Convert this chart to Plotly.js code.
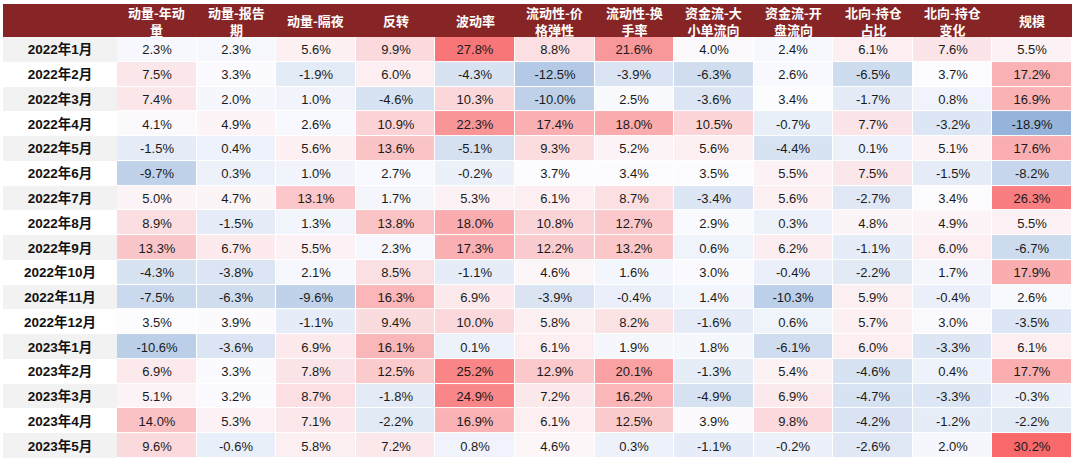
<!DOCTYPE html>
<html>
<head>
<meta charset="utf-8">
<script src="https://cdn.plot.ly/plotly-3.0.1.min.js"></script>
<style>html,body{margin:0;padding:0;background:#fff;}#chart{width:1080px;height:468px;}</style>
</head>
<body>
<div id="chart"></div>
<script>
// Row labels (months)
const months = ["2022年1月","2022年2月","2022年3月","2022年4月","2022年5月","2022年6月","2022年7月","2022年8月","2022年9月","2022年10月","2022年11月","2022年12月","2023年1月","2023年2月","2023年3月","2023年4月","2023年5月"];

// Column headers
const headers = ["动量-年动<br>量","动量-报告<br>期","动量-隔夜","反转","波动率","流动性-价<br>格弹性","流动性-换<br>手率","资金流-大<br>小单流向","资金流-开<br>盘流向","北向-持仓<br>占比","北向-持仓<br>变化","规模"];

// Series values (%), one array per factor column
const momYear     = [2.3, 7.5, 7.4, 4.1, -1.5, -9.7, 5.0, 8.9, 13.3, -4.3, -7.5, 3.5, -10.6, 6.9, 5.1, 14.0, 9.6];
const momReport   = [2.3, 3.3, 2.0, 4.9, 0.4, 0.3, 4.7, -1.5, 6.7, -3.8, -6.3, 3.9, -3.6, 3.3, 3.2, 5.3, -0.6];
const momNight    = [5.6, -1.9, 1.0, 2.6, 5.6, 1.0, 13.1, 1.3, 5.5, 2.1, -9.6, -1.1, 6.9, 7.8, 8.7, 7.1, 5.8];
const reversal    = [9.9, 6.0, -4.6, 10.9, 13.6, 2.7, 1.7, 13.8, 2.3, 8.5, 16.3, 9.4, 16.1, 12.5, -1.8, -2.2, 7.2];
const volatility  = [27.8, -4.3, 10.3, 22.3, -5.1, -0.2, 5.3, 18.0, 17.3, -1.1, 6.9, 10.0, 0.1, 25.2, 24.9, 16.9, 0.8];
const liqElastic  = [8.8, -12.5, -10.0, 17.4, 9.3, 3.7, 6.1, 10.8, 12.2, 4.6, -3.9, 5.8, 6.1, 12.9, 7.2, 6.1, 4.6];
const liqTurnover = [21.6, -3.9, 2.5, 18.0, 5.2, 3.4, 8.7, 12.7, 13.2, 1.6, -0.4, 8.2, 1.9, 20.1, 16.2, 12.5, 0.3];
const flowOrder   = [4.0, -6.3, -3.6, 10.5, 5.6, 3.5, -3.4, 2.9, 0.6, 3.0, 1.4, -1.6, 1.8, -1.3, -4.9, 3.9, -1.1];
const flowOpen    = [2.4, 2.6, 3.4, -0.7, -4.4, 5.5, 5.6, 0.3, 6.2, -0.4, -10.3, 0.6, -6.1, 5.4, 6.9, 9.8, -0.2];
const northShare  = [6.1, -6.5, -1.7, 7.7, 0.1, 7.5, -2.7, 4.8, -1.1, -2.2, 5.9, 5.7, 6.0, -4.6, -4.7, -4.2, -2.6];
const northChange = [7.6, 3.7, 0.8, -3.2, 5.1, -1.5, 3.4, 4.9, 6.0, 1.7, -0.4, 3.0, -3.3, 0.4, -3.3, -1.2, 2.0];
const size        = [5.5, 17.2, 16.9, -18.9, 17.6, -8.2, 26.3, 5.5, -6.7, 17.9, 2.6, -3.5, 6.1, 17.7, -0.3, -2.2, 30.2];

const columns = [momYear, momReport, momNight, reversal, volatility, liqElastic, liqTurnover, flowOrder, flowOpen, northShare, northChange, size];

// Build matrix (rows = months, cols = factors)
const colIdx = headers.map((_, i) => i);
const rowIdx = months.map((_, i) => i);
const z = months.map((_, r) => columns.map(c => c[r]));
const txt = months.map((_, r) => columns.map(c => c[r].toFixed(1) + "%"));

// Layout geometry (in column units)
const labelW = 114 / 79.6;            // label column width relative to a data column
const headerH = 33 / 24.76;           // header height relative to a data row
const xLeft = -0.5 - labelW;
const yTop = -0.5 - headerH;
const nR = months.length, nC = headers.length;

const zmin = -32, zmax = 30.2, mid = 3.5;
const midFrac = (mid - zmin) / (zmax - zmin);

const dataTrace = {
  type: "heatmap",
  x: colIdx, y: rowIdx, z: z,
  text: txt, texttemplate: "%{text}",
  textfont: {family: "Liberation Sans, Arial, sans-serif", size: 13, color: "#1a1a1a"},
  colorscale: [[0, "rgb(90,138,198)"], [midFrac, "rgb(252,252,255)"], [1, "rgb(248,105,107)"]],
  zmin: zmin, zmax: zmax, showscale: false, xgap: 1, ygap: 1, hoverinfo: "skip"
};

const labelTrace = {
  type: "heatmap",
  x: [xLeft, -0.5], y: rowIdx,
  z: months.map((_, i) => [i % 2]),
  text: months.map(m => [m]), texttemplate: "%{text}",
  textfont: {family: "Liberation Sans, Noto Sans CJK SC, sans-serif", size: 13.5, color: "#111", weight: "bold"},
  colorscale: [[0, "#F2F2F2"], [1, "#FFFFFF"]], zmin: 0, zmax: 1,
  showscale: false, hoverinfo: "skip"
};

const annotations = headers.map((h, i) => ({
  x: i, y: yTop + headerH / 2, xref: "x", yref: "y",
  text: h, showarrow: false,
  font: {family: "Noto Sans CJK SC, sans-serif", size: 13, color: "#ffffff", weight: "bold"},
  align: "center", xanchor: "center", yanchor: "middle"
}));

const layout = {
  width: 1080, height: 468,
  margin: {l: 3, r: 8, t: 4, b: 10},
  paper_bgcolor: "#ffffff", plot_bgcolor: "#ffffff",
  xaxis: {range: [xLeft, nC - 0.5], visible: false, fixedrange: true},
  yaxis: {range: [nR - 0.5, yTop], visible: false, fixedrange: true},
  shapes: [{
    type: "rect", xref: "x", yref: "y", layer: "below",
    x0: xLeft, x1: nC - 0.5, y0: yTop, y1: -0.5,
    fillcolor: "#872526", line: {width: 0}
  }],
  annotations: annotations,
  showlegend: false
};

Plotly.newPlot("chart", [labelTrace, dataTrace], layout, {staticPlot: true, displayModeBar: false});
</script>
</body>
</html>
